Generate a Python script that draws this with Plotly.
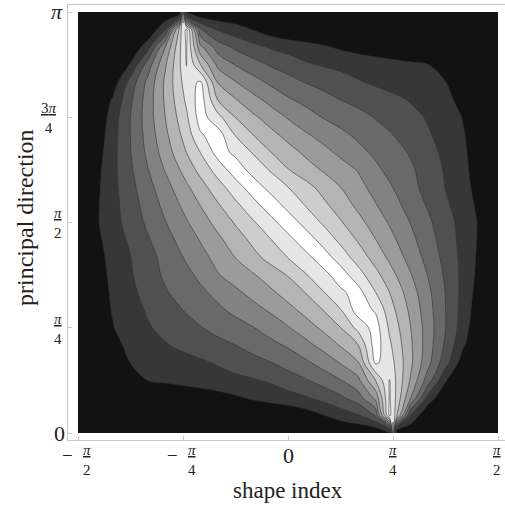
import math
import plotly.graph_objects as go

PI = math.pi
# grid positions (multiples of pi); extra columns hug the two singular points at -pi/4 and pi/4
S_FRAC = [-12/24, -11/24, -10/24, -9/24, -8/24, -7/24, -1/4 - 1/120, -6/24, -1/4 + 1/120,
          -5/24, -4/24, -3/24, -2/24, -1/24, 0, 1/24, 2/24, 3/24, 4/24, 5/24,
          1/4 - 1/120, 6/24, 1/4 + 1/120, 7/24, 8/24, 9/24, 10/24, 11/24, 12/24]
T_FRAC = [k / 24 for k in range(25)]
shape_index = [f * PI for f in S_FRAC]
principal_dir = [f * PI for f in T_FRAC]

# contour level (band index); rows from theta=0 (bottom) to theta=pi (top)
level_rows = [
    [0, 0, 0, 0, 0, 0, 0, 0, 0, 0, 0, 0, 0, 0, 0, 0, 0, 0, 0, 0, 0, 9.5, 0, 0, 0, 0, 0, 0, 0],
    [0, 0, 0, 0, 0, 0, 0, 0, 0, 0, 0, 0, 0, 0, 0.1, 0.45, 0.94, 1.42, 1.9, 3.12, 9.1, 8.7, 7.29, 1.95, 0, 0, 0, 0, 0],
    [0, 0, 0, 0, 0, 0.1, 0.22, 0.25, 0.28, 0.4, 0.6, 0.85, 1.12, 1.38, 1.63, 1.89, 2.29, 2.81, 3.52, 5.25, 9.1, 8.6, 7.74, 5.03, 1.64, 0, 0, 0, 0],
    [0, 0.1, 0.3, 0.6, 1.01, 1.16, 1.28, 1.31, 1.34, 1.46, 1.61, 1.76, 1.91, 2.14, 2.52, 2.9, 3.4, 3.95, 4.73, 7.0, 9.05, 8.5, 7.83, 5.9, 3.48, 1.07, 0.2, 0, 0],
    [0, 0.2, 0.55, 1.01, 1.22, 1.43, 1.6, 1.64, 1.69, 1.85, 2.09, 2.38, 2.67, 2.96, 3.37, 3.81, 4.38, 5.05, 5.91, 9.15, 8.51, 8.12, 7.74, 6.21, 4.29, 2.37, 0.45, 0, 0],
    [0, 0.3, 0.75, 1.2, 1.56, 1.93, 2.16, 2.21, 2.26, 2.47, 2.73, 2.99, 3.35, 3.72, 4.12, 4.69, 5.32, 6.07, 6.94, 9.5, 8.19, 7.85, 7.51, 6.17, 4.49, 2.81, 1.12, 0, 0],
    [0, 0.45, 0.96, 1.44, 1.91, 2.28, 2.55, 2.61, 2.68, 2.95, 3.29, 3.62, 3.96, 4.43, 4.92, 5.53, 6.2, 6.98, 8.3, 9.45, 7.84, 7.53, 7.23, 6.03, 4.52, 3.01, 1.5, 0, 0],
    [0, 0.5, 1.06, 1.6, 2.11, 2.56, 2.91, 3.0, 3.08, 3.4, 3.81, 4.23, 4.66, 5.12, 5.68, 6.3, 7.0, 7.93, 9.45, 8.9, 7.45, 7.17, 6.9, 5.79, 4.4, 3.01, 1.62, 0.23, 0],
    [0, 0.55, 1.13, 1.76, 2.35, 2.91, 3.28, 3.37, 3.45, 3.8, 4.28, 4.79, 5.3, 5.81, 6.39, 7.02, 7.92, 8.8, 9.4, 8.02, 7.01, 6.76, 6.51, 5.49, 4.23, 2.97, 1.7, 0.44, 0],
    [0, 0.55, 1.22, 1.9, 2.56, 3.16, 3.56, 3.65, 3.75, 4.21, 4.94, 5.43, 5.91, 6.46, 7.05, 7.91, 8.66, 9.5, 8.43, 7.31, 6.42, 6.19, 5.97, 5.08, 3.96, 2.85, 1.73, 0.62, 0],
    [0, 0.63, 1.3, 1.97, 2.65, 3.32, 3.86, 3.99, 4.12, 4.66, 5.33, 6.01, 6.68, 7.35, 8.02, 8.69, 9.5, 8.55, 7.58, 6.6, 5.82, 5.62, 5.42, 4.64, 3.66, 2.69, 1.71, 0.73, 0],
    [0, 0.73, 1.45, 2.18, 2.9, 3.62, 4.2, 4.34, 4.48, 5.06, 5.78, 6.51, 7.23, 7.95, 8.67, 9.55, 8.65, 7.78, 6.91, 6.03, 5.33, 5.16, 4.99, 4.29, 3.41, 2.54, 1.67, 0.8, 0],
    [0.06, 0.84, 1.63, 2.41, 3.19, 3.97, 4.6, 4.75, 4.91, 5.54, 6.32, 7.1, 7.88, 8.66, 9.55, 8.66, 7.88, 7.1, 6.32, 5.54, 4.91, 4.75, 4.6, 3.97, 3.19, 2.41, 1.63, 0.84, 0.06],
    [0, 0.8, 1.67, 2.54, 3.41, 4.29, 4.99, 5.16, 5.33, 6.03, 6.91, 7.78, 8.65, 9.55, 8.67, 7.95, 7.23, 6.51, 5.78, 5.06, 4.48, 4.34, 4.2, 3.62, 2.9, 2.18, 1.45, 0.73, 0],
    [0, 0.73, 1.71, 2.69, 3.66, 4.64, 5.42, 5.62, 5.82, 6.6, 7.58, 8.55, 9.5, 8.69, 8.02, 7.35, 6.68, 6.01, 5.33, 4.66, 4.12, 3.99, 3.86, 3.32, 2.65, 1.97, 1.3, 0.63, 0],
    [0, 0.62, 1.73, 2.85, 3.96, 5.08, 5.97, 6.19, 6.42, 7.31, 8.43, 9.5, 8.66, 7.91, 7.05, 6.46, 5.91, 5.43, 4.94, 4.21, 3.75, 3.65, 3.56, 3.16, 2.56, 1.9, 1.22, 0.55, 0],
    [0, 0.44, 1.7, 2.97, 4.23, 5.49, 6.51, 6.76, 7.01, 8.02, 9.4, 8.8, 7.92, 7.02, 6.39, 5.81, 5.3, 4.79, 4.28, 3.8, 3.45, 3.37, 3.28, 2.91, 2.35, 1.76, 1.13, 0.55, 0],
    [0, 0.23, 1.62, 3.01, 4.4, 5.79, 6.9, 7.17, 7.45, 8.9, 9.45, 7.93, 7.0, 6.3, 5.68, 5.12, 4.66, 4.23, 3.81, 3.4, 3.08, 3.0, 2.91, 2.56, 2.11, 1.6, 1.06, 0.5, 0],
    [0, 0, 1.5, 3.01, 4.52, 6.03, 7.23, 7.53, 7.84, 9.45, 8.3, 6.98, 6.2, 5.53, 4.92, 4.43, 3.96, 3.62, 3.29, 2.95, 2.68, 2.61, 2.55, 2.28, 1.91, 1.44, 0.96, 0.45, 0],
    [0, 0, 1.12, 2.81, 4.49, 6.17, 7.51, 7.85, 8.19, 9.5, 6.94, 6.07, 5.32, 4.69, 4.12, 3.72, 3.35, 2.99, 2.73, 2.47, 2.26, 2.21, 2.16, 1.93, 1.56, 1.2, 0.75, 0.3, 0],
    [0, 0, 0.45, 2.37, 4.29, 6.21, 7.74, 8.12, 8.51, 9.15, 5.91, 5.05, 4.38, 3.81, 3.37, 2.96, 2.67, 2.38, 2.09, 1.85, 1.69, 1.64, 1.6, 1.43, 1.22, 1.01, 0.55, 0.2, 0],
    [0, 0, 0.2, 1.07, 3.48, 5.9, 7.83, 8.5, 9.05, 7.0, 4.73, 3.95, 3.4, 2.9, 2.52, 2.14, 1.91, 1.76, 1.61, 1.46, 1.34, 1.31, 1.28, 1.16, 1.01, 0.6, 0.3, 0.1, 0],
    [0, 0, 0, 0, 1.64, 5.03, 7.74, 8.6, 9.1, 5.25, 3.52, 2.81, 2.29, 1.89, 1.63, 1.38, 1.12, 0.85, 0.6, 0.4, 0.28, 0.25, 0.22, 0.1, 0, 0, 0, 0, 0],
    [0, 0, 0, 0, 0, 1.95, 7.29, 8.7, 9.1, 3.12, 1.9, 1.42, 0.94, 0.45, 0.1, 0, 0, 0, 0, 0, 0, 0, 0, 0, 0, 0, 0, 0, 0],
    [0, 0, 0, 0, 0, 0, 0, 9.5, 0, 0, 0, 0, 0, 0, 0, 0, 0, 0, 0, 0, 0, 0, 0, 0, 0, 0, 0, 0, 0],
]

band_grays = [18, 55, 80, 105, 130, 155, 180, 205, 230, 255]
colorscale = [[k / 9, f"rgb({g},{g},{g})"] for k, g in enumerate(band_grays)]

fig = go.Figure(go.Contour(
    x=shape_index, y=principal_dir, z=level_rows,
    contours=dict(start=1, end=9, size=1, coloring="fill"),
    colorscale=colorscale, showscale=False,
    line=dict(color="rgba(50,50,50,0.6)", width=1, smoothing=1.0),
    hoverinfo="skip",
))

L, T, W, H = 68, 5, 437, 435
def px(x): return (x - L) / W
def py(y): return (T + H - y) / H

SERIF = "Liberation Serif, Times New Roman, serif"
TXT = "#222"
ann = []
def add(x, y, text, size, **kw):
    ann.append(dict(x=px(x), y=py(y), xref="paper", yref="paper", text=text,
                    font=dict(size=size, family=SERIF, color=TXT), showarrow=False,
                    xanchor="center", yanchor="middle", **kw))

# x tick labels
for xc, den, neg in [(78, "2", True), (183, "4", True), (393, "4", False), (497, "2", False)]:
    fx = xc + 9 if neg else xc
    add(fx, 460, f"<u><i>π</i></u><br>{den}", 15)
    if neg:
        add(xc - 11, 455, "−", 19)
add(288, 455, "0", 22)
# y tick labels
add(57, 12, "<i>π</i>", 22)
add(59, 433, "0", 22)
add(49, 118, "<u>3<i>π</i></u><br>4", 15)
add(58, 223, "<u><i>π</i></u><br>2", 15)
add(58, 329, "<u><i>π</i></u><br>4", 15)
# axis titles
add(288, 490, "shape index", 23)
add(25, 218, "principal direction", 24, textangle=-90)

k = PI / 420
fig.update_layout(
    width=505, height=505,
    margin=dict(l=L, r=505 - L - W, t=T, b=505 - T - H),
    paper_bgcolor="white", plot_bgcolor="white",
    annotations=ann,
    xaxis=dict(range=[-PI / 2 - 10 * k, PI / 2 + 7 * k], showgrid=False, zeroline=False,
               showline=True, linecolor="#c8c8c8", linewidth=1, mirror=True,
               ticks="inside", ticklen=4, tickcolor="#c8c8c8",
               tickvals=[-PI / 2, -PI / 4, 0, PI / 4, PI / 2], showticklabels=False),
    yaxis=dict(range=[-7 * PI / 421, PI + 7 * PI / 421], showgrid=False, zeroline=False,
               showline=True, linecolor="#c8c8c8", linewidth=1, mirror=True,
               ticks="inside", ticklen=4, tickcolor="#c8c8c8",
               tickvals=[0, PI / 4, PI / 2, 3 * PI / 4, PI], showticklabels=False),
)

fig.write_html("out.html", config={"displayModeBar": False},
               post_script="document.body.style.margin='0';document.body.style.overflow='hidden';")
